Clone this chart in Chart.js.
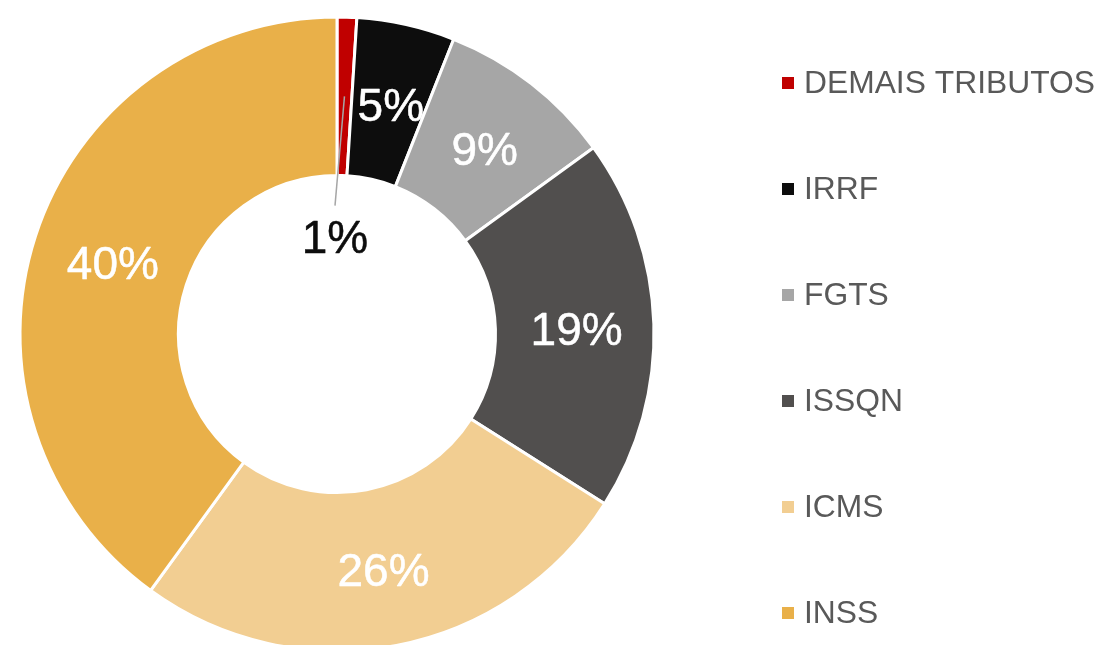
<!DOCTYPE html>
<html>
<head>
<meta charset="utf-8">
<script src="https://cdn.jsdelivr.net/npm/chart.js@4"></script>
<style>
  html, body { margin: 0; padding: 0; background: #ffffff; overflow: hidden; }
  #wrap { width: 1099px; height: 645px; position: relative; }
</style>
</head>
<body>
<div id="wrap"><canvas id="c"></canvas></div>
<script>
const categories = ["DEMAIS TRIBUTOS", "IRRF", "FGTS", "ISSQN", "ICMS", "INSS"];
const shares = [1, 5, 9, 19, 26, 40];
const sliceColors = ["#C00000", "#0D0D0D", "#A6A6A6", "#514F4E", "#F2CE92", "#E9B049"];
const labelColors = ["#0D0D0D", "#FFFFFF", "#FFFFFF", "#FFFFFF", "#FFFFFF", "#FFFFFF"];

const FONT = '"Liberation Sans", Arial, sans-serif';

const sliceLabels = {
  id: 'sliceLabels',
  afterDatasetsDraw(chart) {
    const ctx = chart.ctx;
    const meta = chart.getDatasetMeta(0);
    const ds = chart.data.datasets[0];
    ctx.save();
    ctx.font = '46px ' + FONT;
    ctx.textAlign = 'center';
    ctx.textBaseline = 'middle';
    ctx.lineJoin = 'round';
    meta.data.forEach((arc, i) => {
      const p = arc.getProps(['x', 'y', 'innerRadius', 'outerRadius', 'startAngle', 'endAngle']);
      const mid = (p.startAngle + p.endAngle) / 2;
      const rMid = (p.innerRadius + p.outerRadius) / 2;
      const txt = ds.data[i] + '%';
      let tx, ty;
      if (ds.data[i] < 3) {
        const sx = p.x + Math.cos(mid) * rMid;
        const sy = p.y + Math.sin(mid) * rMid;
        const ex = p.x - 2;
        const ey = p.y - p.innerRadius * 0.81;
        ctx.strokeStyle = '#A6A6A6';
        ctx.lineWidth = 1.5;
        ctx.beginPath();
        ctx.moveTo(sx, sy);
        ctx.lineTo(ex, ey);
        ctx.stroke();
        tx = p.x - 2;
        ty = p.y - p.innerRadius * 0.59;
      } else {
        tx = p.x + Math.cos(mid) * rMid + 2;
        ty = p.y + Math.sin(mid) * rMid + 6;
      }
      ctx.fillStyle = labelColors[i];
      ctx.strokeStyle = labelColors[i];
      ctx.lineWidth = 0.5;
      ctx.fillText(txt, tx, ty);
      ctx.strokeText(txt, tx, ty);
    });
    ctx.restore();
  }
};

const sideLegend = {
  id: 'sideLegend',
  afterDraw(chart) {
    const ctx = chart.ctx;
    const labels = chart.data.labels;
    const colors = chart.data.datasets[0].backgroundColor;
    ctx.save();
    ctx.font = '31.8px ' + FONT;
    ctx.textAlign = 'left';
    ctx.textBaseline = 'middle';
    labels.forEach((lab, i) => {
      const y = 83 + i * 106;
      ctx.fillStyle = colors[i];
      ctx.fillRect(782, y - 6, 12, 12);
      ctx.fillStyle = '#595959';
      ctx.fillText(lab, 804, y + 1);
    });
    ctx.restore();
  }
};

new Chart(document.getElementById('c'), {
  type: 'doughnut',
  data: {
    labels: categories,
    datasets: [{
      data: shares,
      backgroundColor: sliceColors,
      borderColor: '#FFFFFF',
      borderWidth: 3,
      clip: false
    }]
  },
  options: {
    responsive: true,
    maintainAspectRatio: false,
    animation: false,
    radius: 317,
    cutout: '50%',
    layout: { padding: { left: 20, right: 445, top: 23, bottom: 0 } },
    plugins: {
      legend: { display: false },
      tooltip: { enabled: false }
    }
  },
  plugins: [sliceLabels, sideLegend]
});
</script>
</body>
</html>
